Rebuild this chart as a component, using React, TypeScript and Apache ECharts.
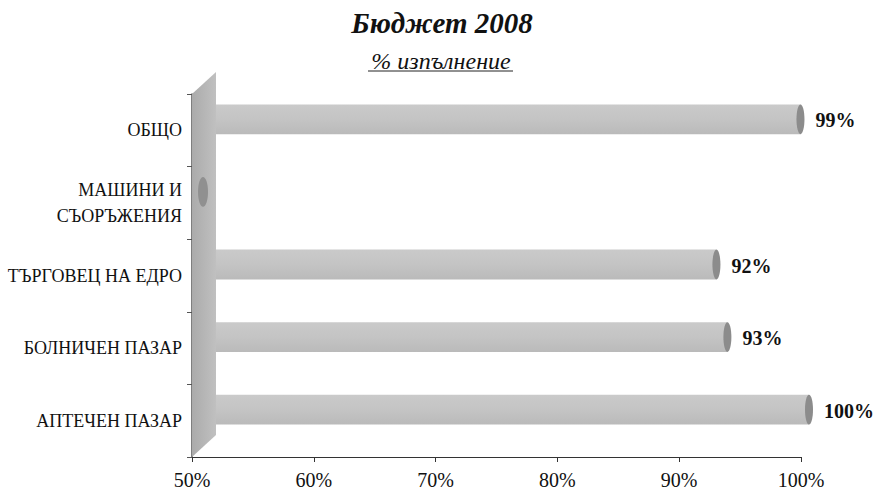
import React, { useEffect, useRef } from "react";
import * as echarts from "echarts";

const titleText = "Бюджет 2008";
const subtitleText = "% изпълнение";
const categories = ["ОБЩО", "МАШИНИ И\nСЪОРЪЖЕНИЯ", "ТЪРГОВЕЦ НА ЕДРО", "БОЛНИЧЕН ПАЗАР", "АПТЕЧЕН ПАЗАР"];
const values = [99.3, 0, 92.4, 93.3, 100];
const xTicks = [50, 60, 70, 80, 90, 100];

const SERIF = '"Liberation Serif", "DejaVu Serif", serif';
const DEPTH_X = 24;
const DEPTH_Y = 22;

export default function App() {
  const ref = useRef<HTMLDivElement>(null);
  useEffect(() => {
    document.body.style.margin = "0";
    if (!ref.current) return;
    const chart = echarts.init(ref.current, null, { renderer: "svg" });
    const xMin = xTicks[0];
    const xMax = xTicks[xTicks.length - 1];
    const interval = xTicks[1] - xTicks[0];

    const wallRender = (params: any, api: any) => {
      const cs = params.coordSys;
      const x = cs.x, y = cs.y, h = cs.height;
      return {
        type: "polygon",
        shape: {
          points: [
            [x, y + h],
            [x, y],
            [x + DEPTH_X, y - DEPTH_Y],
            [x + DEPTH_X, y + h - DEPTH_Y],
          ],
        },
        style: {
          fill: new echarts.graphic.LinearGradient(0, 0, 1, 0, [
            { offset: 0, color: "#ababab" },
            { offset: 1, color: "#c0c0c0" },
          ]),
          stroke: null,
        },
      };
    };

    const barRender = (params: any, api: any) => {
      const v = api.value(0);
      const idx = api.value(1);
      const front0 = api.coord([xMin, idx]);
      const bandH = api.size([0, 1])[1];
      const h = bandH * 0.41;
      const cy = front0[1] - DEPTH_Y / 2;
      const leftX = front0[0] + DEPTH_X;
      const endX = api.coord([Math.max(v, xMin), idx])[0] + DEPTH_X / 2;
      const capRx = 4;
      const children: any[] = [];
      if (v > xMin) {
        children.push({
          type: "rect",
          shape: { x: leftX, y: cy - h / 2, width: endX - capRx - leftX, height: h },
          style: {
            fill: new echarts.graphic.LinearGradient(0, 0, 0, 1, [
              { offset: 0, color: "#cacaca" },
              { offset: 0.5, color: "#c4c4c4" },
              { offset: 1, color: "#bababa" },
            ]),
          },
        });
        children.push({
          type: "ellipse",
          shape: { cx: endX - capRx, cy: cy, rx: capRx, ry: h / 2 },
          style: { fill: "#8c8c8c" },
        });
        children.push({
          type: "text",
          style: {
            text: Math.round(v) + "%",
            x: endX + 11,
            y: cy + 1,
            verticalAlign: "middle",
            align: "left",
            font: "bold 20px " + SERIF,
            fill: "#111",
          },
        });
      } else {
        children.push({
          type: "ellipse",
          shape: { cx: endX - 1, cy: cy, rx: capRx + 1, ry: h / 2 },
          style: { fill: "#909090" },
        });
      }
      return { type: "group", children };
    };

    chart.setOption({
      animation: false,
      backgroundColor: "#ffffff",
      grid: { left: 192, right: 75, top: 94, bottom: 31, containLabel: false },
      xAxis: {
        type: "value",
        min: xMin,
        max: xMax,
        interval: interval,
        axisLine: { show: true, lineStyle: { color: "#333", width: 1 } },
        axisTick: { show: true, length: 5, lineStyle: { color: "#333" } },
        splitLine: { show: false },
        axisLabel: {
          formatter: "{value}%",
          margin: 13,
          fontFamily: SERIF,
          fontSize: 20,
          color: "#111",
        },
      },
      yAxis: {
        type: "category",
        inverse: true,
        data: categories,
        axisLine: { show: true, lineStyle: { color: "#555", width: 1.5 } },
        axisTick: { show: true, length: 5, lineStyle: { color: "#555" } },
        axisLabel: {
          margin: 10,
          fontFamily: SERIF,
          fontSize: 18,
          lineHeight: 26,
          color: "#111",
        },
      },
      graphic: [
        {
          type: "text",
          x: 442,
          y: 23,
          style: {
            text: titleText,
            align: "center",
            verticalAlign: "middle",
            font: "italic bold 29px " + SERIF,
            fill: "#111",
          },
        },
        {
          type: "text",
          x: 441,
          y: 61,
          style: {
            text: subtitleText,
            align: "center",
            verticalAlign: "middle",
            font: "italic 24px " + SERIF,
            fill: "#111",
          },
        },
        {
          type: "line",
          shape: { x1: 368, y1: 71, x2: 513, y2: 71 },
          style: { stroke: "#222", lineWidth: 1 },
        },
      ],
      series: [
        {
          type: "custom",
          name: "wall",
          renderItem: wallRender,
          data: [[xMin, 0]],
          clip: false,
          z: 1,
          silent: true,
        },
        {
          type: "custom",
          name: "bars",
          renderItem: barRender,
          encode: { x: 0, y: 1 },
          data: values.map((v, i) => [v, i]),
          clip: false,
          z: 2,
        },
      ],
    });
    return () => chart.dispose();
  }, []);
  return <div ref={ref} style={{ width: 876, height: 490 }} />;
}
